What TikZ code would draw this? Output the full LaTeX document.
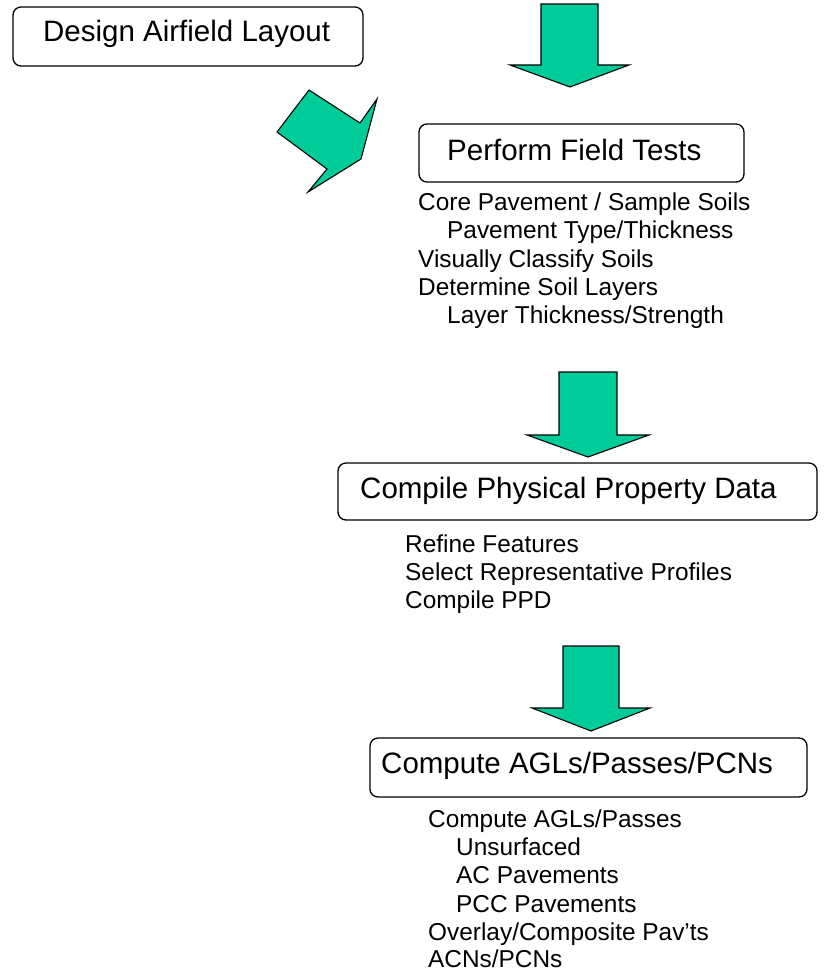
\documentclass[tikz,border=0pt]{standalone}
\usepackage{fontspec}
\setmainfont{Liberation Sans}
\definecolor{arrowgreen}{RGB}{0,204,153}
\begin{document}
\begin{tikzpicture}[x=1pt,y=-1pt,
  box/.style={draw=black, line width=1.3pt, rounded corners=8pt, fill=white, inner sep=0pt},
  title/.style={font=\fontsize{29.5}{34}\selectfont, anchor=base west, inner sep=0pt},
  item/.style={font=\fontsize{24.4}{28}\selectfont, anchor=base west, inner sep=0pt},
  blockarrow/.style={draw=black, line width=1.1pt, fill=arrowgreen, line join=miter}]
\useasboundingbox (0,0) rectangle (828,971);

% boxes
\node[box, minimum width=350pt, minimum height=59pt] (b1) at (188,36.5) {};
\node[title] (t1) at (43,42) {Design Airfield Layout};

\node[box, minimum width=325pt, minimum height=58pt] (b2) at (581.5,153) {};
\node[title] (t2) at (447,160) {Perform Field Tests};

\node[box, minimum width=479pt, minimum height=57pt] (b3) at (577.5,491.5) {};
\node[title] (t3) at (360,498) {Compile Physical Property Data};

\node[box, minimum width=437pt, minimum height=59pt] (b4) at (588.5,767.5) {};
\node[title] (t4) at (381,773) {Compute AGLs/Passes/PCNs};

% block arrows
\draw[blockarrow] (541,4) -- (598,4) -- (598,65) -- (629,65) -- (570,87) -- (510,65) -- (541,65) -- cycle;
\draw[blockarrow] (277,132) -- (309,90) -- (360,123) -- (377,99) -- (361,159) -- (308,192) -- (327,169) -- cycle;
\draw[blockarrow] (559,372) -- (617,372) -- (617,435) -- (649,435) -- (588,457) -- (527,435) -- (559,435) -- cycle;
\draw[blockarrow] (563,646) -- (619,646) -- (619,708) -- (650,708) -- (591,731) -- (532,708) -- (563,708) -- cycle;

% list 1
\node[item] (l1a) at (418,210) {Core Pavement / Sample Soils};
\node[item] (l1b) at (447,238) {Pavement Type/Thickness};
\node[item] (l1c) at (418,267) {Visually Classify Soils};
\node[item] (l1d) at (418,295) {Determine Soil Layers};
\node[item] (l1e) at (447,323) {Layer Thickness/Strength};

% list 3
\node[item] (l3a) at (405,552) {Refine Features};
\node[item] (l3b) at (405,580) {Select Representative Profiles};
\node[item] (l3c) at (405,608) {Compile PPD};

% list 4
\node[item] (l4a) at (428,827) {Compute AGLs/Passes};
\node[item] (l4b) at (456,855) {Unsurfaced};
\node[item] (l4c) at (456,883) {AC Pavements};
\node[item] (l4d) at (456,912) {PCC Pavements};
\node[item] (l4e) at (428,940) {Overlay/Composite Pav’ts};
\node[item] (l4f) at (428,967) {ACNs/PCNs};
\end{tikzpicture}
\end{document}
